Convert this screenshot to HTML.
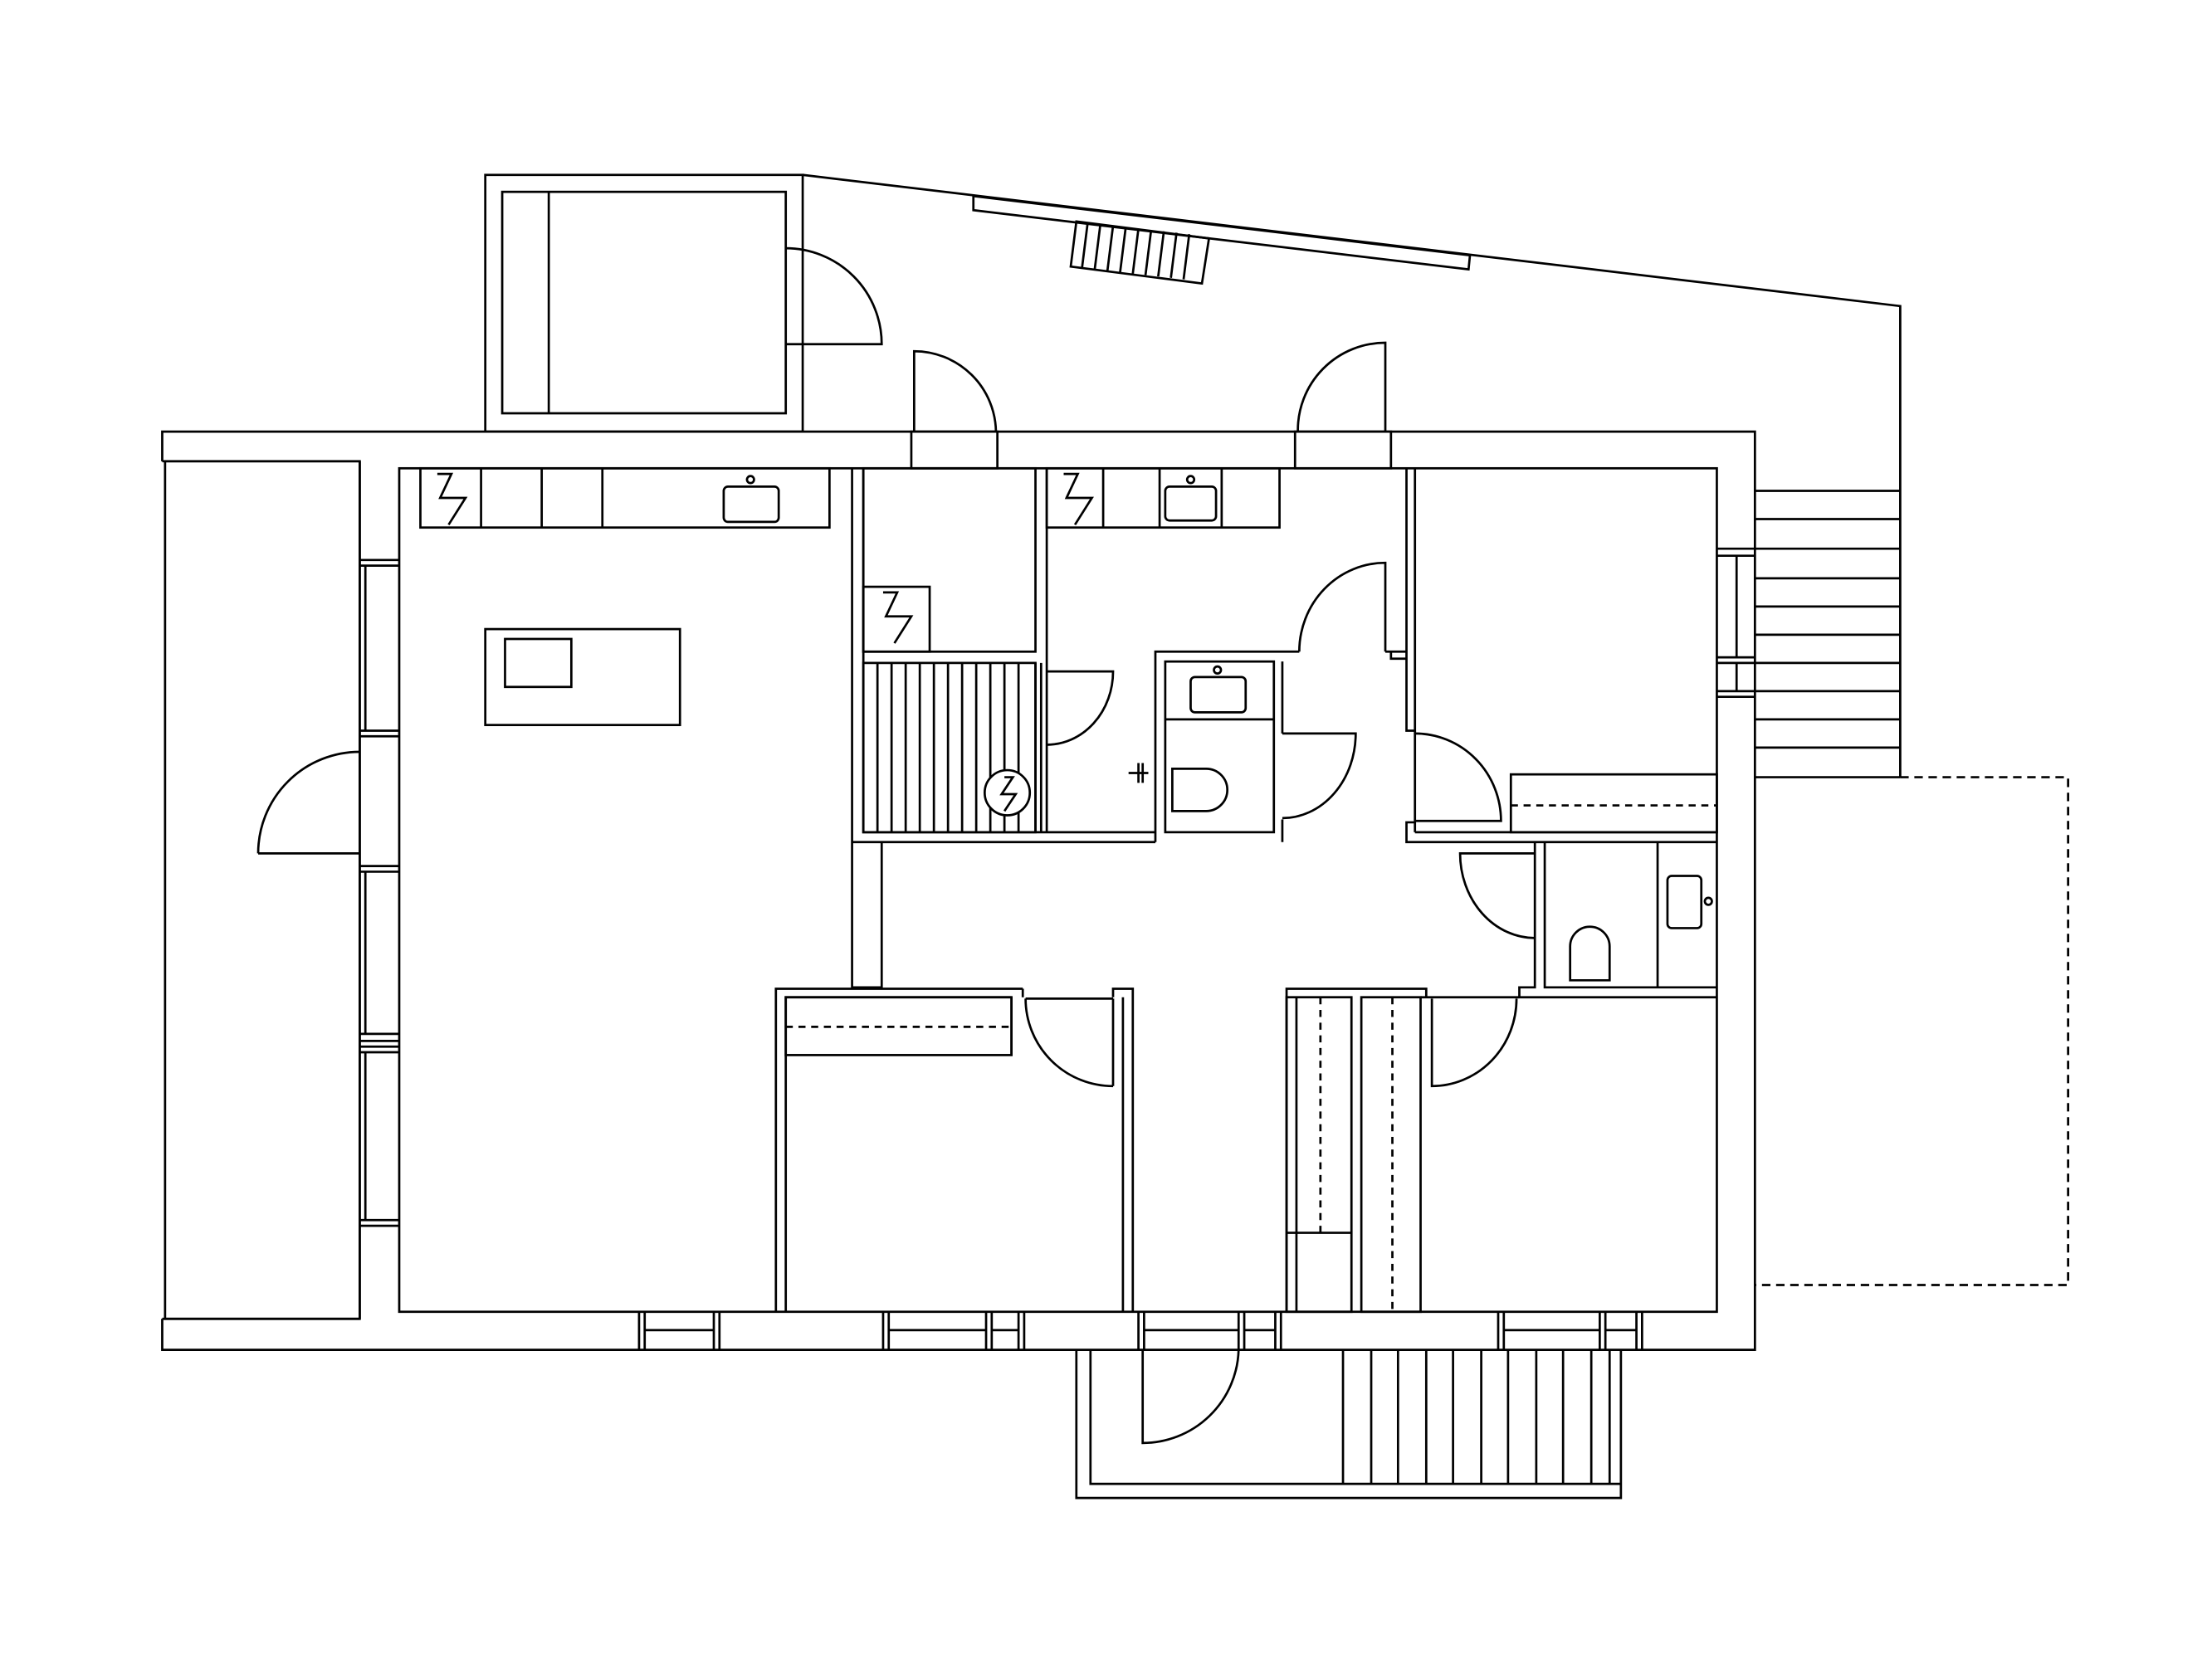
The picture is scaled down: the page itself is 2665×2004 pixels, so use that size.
<!DOCTYPE html>
<html><head><meta charset="utf-8"><style>
html,body{margin:0;padding:0;background:#fff;width:2665px;height:2004px;overflow:hidden}
svg{display:block}
</style></head><body>
<svg width="2665" height="2004" viewBox="0 0 1568 1179" preserveAspectRatio="none" xmlns="http://www.w3.org/2000/svg">
<g fill="none" stroke="#000" stroke-width="1.6">
<path d="M115 327 V306 H1244 V957 H115 V935"/>
<path d="M115 327 H255 M115 935 H255"/>
<rect x="117" y="327" width="138" height="608"/>
<rect x="283" y="332" width="934" height="598"/>
<line x1="255" y1="327" x2="255" y2="935"/>
<path d="M255 397 H283 M255 401 H283 M255 518 H283 M255 522 H283 M255 614 H283 M255 618 H283 M255 733 H283 M255 738 H283 M255 742 H283 M255 746 H283 M255 865 H283 M255 869 H283"/>
<path d="M259 401 V518 M259 618 V733 M259 746 V865"/>
<path d="M183 605 H255 M183 605 A72 72 0 0 1 255 533"/>
<rect x="344" y="124" width="225" height="182"/>
<rect x="356" y="136" width="201" height="157"/>
<line x1="389" y1="136" x2="389" y2="293"/>
<path d="M557 244 H625 A68 68 0 0 0 557 176"/>
<path d="M569 124 L1347 217 V551"/>
<polygon points="690,139 1042,181 1041,191 690,149"/>
<polygon points="763,157 857,169 852,201 759,189"/>
<path d="M771 158 L767 190 M780 159 L776 191 M789 160 L785 192 M798 161 L794 193 M807 162 L803 194 M816 163 L812 195 M825 164 L821 196 M834 165 L830 197 M843 166 L839 198"/>
<rect x="646" y="306" width="61" height="26"/>
<path d="M648 306 V249 A58 58 0 0 1 706 306"/>
<rect x="918" y="306" width="68" height="26"/>
<path d="M982 306 V243 A62 62 0 0 0 920 306"/>
<path d="M1244 348 H1347 M1244 368 H1347 M1244 389 H1347 M1244 410 H1347 M1244 430 H1347 M1244 450 H1347 M1244 470 H1347 M1244 490 H1347 M1244 510 H1347 M1244 530 H1347 M1244 551 H1347"/>
<path d="M1217 389 H1244 M1217 394 H1244 M1217 466 H1244 M1217 470 H1244 M1217 490 H1244 M1217 494 H1244 M1231 394 V466 M1231 470 V490"/>
<path d="M1347 551 H1466 V911 H1244" stroke-dasharray="6 4"/>
<path d="M453 930 V957 M457 930 V957 M506 930 V957 M510 930 V957 M457 943 H506"/>
<path d="M626 930 V957 M630 930 V957 M699 930 V957 M703 930 V957 M722 930 V957 M726 930 V957 M630 943 H699 M703 943 H722"/>
<path d="M807 930 V957 M811 930 V957 M878 930 V957 M882 930 V957 M904 930 V957 M908 930 V957 M811 943 H878 M882 943 H904"/>
<path d="M1062 930 V957 M1066 930 V957 M1134 930 V957 M1138 930 V957 M1160 930 V957 M1164 930 V957 M1066 943 H1134 M1138 943 H1160"/>
<path d="M763 957 V1062 H1149 V957 M773 957 V1052 H1149"/>
<path d="M952 957 V1052 M972 957 V1052 M991 957 V1052 M1011 957 V1052 M1030 957 V1052 M1050 957 V1052 M1069 957 V1052 M1089 957 V1052 M1108 957 V1052 M1128 957 V1052 M1141 957 V1052"/>
<path d="M810 957 V1023 A68 68 0 0 0 878 957"/>
<rect x="298" y="332" width="290" height="42"/>
<path d="M341 332 V374 M384 332 V374 M427 332 V374"/>
<rect x="513" y="345" width="39" height="25" rx="3"/>
<circle cx="532" cy="340" r="2.5"/>
<path d="M310 336 L320 336 L312 353 L330 353 L318 372"/>
<rect x="344" y="446" width="138" height="68"/>
<rect x="358" y="453" width="47" height="34"/>
<path d="M604 332 V700 H625 V597"/>
<path d="M612 332 V590 H819"/>
<path d="M604 597 H819"/>
<rect x="612" y="332" width="122" height="130"/>
<line x1="742" y1="332" x2="742" y2="590"/>
<rect x="612" y="416" width="47" height="46"/>
<path d="M626 420 L636 420 L628 437 L646 437 L634 456"/>
<rect x="742" y="332" width="165" height="42"/>
<path d="M782 332 V374 M822 332 V374 M866 332 V374"/>
<rect x="826" y="345" width="36" height="24" rx="3"/>
<circle cx="844" cy="340" r="2.5"/>
<path d="M754 336 L764 336 L756 353 L774 353 L762 372"/>
<rect x="612" y="470" width="122" height="120"/>
<path d="M622 470 V590 M632 470 V590 M642 470 V590 M652 470 V590 M662 470 V590 M672 470 V590 M682 470 V590 M692 470 V590 M702 470 V590 M712 470 V590 M722 470 V590 M734 470 V590 M738 470 V590"/>
<circle cx="714" cy="562" r="16" fill="#fff"/>
<path d="M712 551 L718 551 L710 563 L720 563 L712 575"/>
<path d="M742 476 H789 A47 52 0 0 1 742 528"/>
<path d="M800 548 H814 M807 541 V555 M810 541 V555"/>
<path d="M819 597 V462 H921 M909 597 V581 M909 520 V469"/>
<rect x="826" y="469" width="77" height="121"/>
<line x1="826" y1="510" x2="903" y2="510"/>
<rect x="844" y="480" width="39" height="25" rx="3"/>
<circle cx="863" cy="475" r="2.5"/>
<path d="M831 545 H855 A15 15 0 0 1 855 575 H831 Z"/>
<path d="M909 520 H961 A52 60 0 0 1 909 580"/>
<path d="M982 462 V399 A61 63 0 0 0 921 462"/>
<path d="M982 462 H997 V332 M1003 332 V518 H997 V462 M986 462 V467 H997"/>
<path d="M1003 583 H997 V597 H1217 M1003 590 H1217 M1003 518 V590"/>
<path d="M1003 582 H1064 A61 62 0 0 0 1003 520"/>
<rect x="1071" y="549" width="146" height="41"/>
<line x1="1071" y1="571" x2="1217" y2="571" stroke-dasharray="5 4"/>
<path d="M1088 597 V700 H1077 V707 H1217 M1095 597 V700 H1217 M1175 597 V700"/>
<rect x="1182" y="621" width="24" height="37" rx="3"/>
<circle cx="1211" cy="639" r="2.5"/>
<path d="M1113 695 V671 A14 14 0 0 1 1141 671 V695 Z"/>
<path d="M1088 605 H1035 A53 60 0 0 0 1088 665"/>
<path d="M550 930 V701 H725 M557 930 V707 H717 M725 701 V707 M717 707 V748"/>
<rect x="557" y="707" width="160" height="41"/>
<line x1="557" y1="728" x2="717" y2="728" stroke-dasharray="5 4"/>
<path d="M727 708 H789 M789 708 V770 M727 708 A62 62 0 0 0 789 770"/>
<path d="M789 707 V701 H803 V930 M796 707 V930"/>
<path d="M912 930 V701 H1011 V707 M919 707 V930"/>
<rect x="912" y="707" width="46" height="223"/>
<rect x="965" y="707" width="42" height="223"/>
<line x1="912" y1="874" x2="958" y2="874"/>
<path d="M936 707 V874 M987 707 V930" stroke-dasharray="5 4"/>
<path d="M1007 707 H1077"/>
<path d="M1015 708 V770 A60 62 0 0 0 1075 708"/>
</g>
</svg>
</body></html>
